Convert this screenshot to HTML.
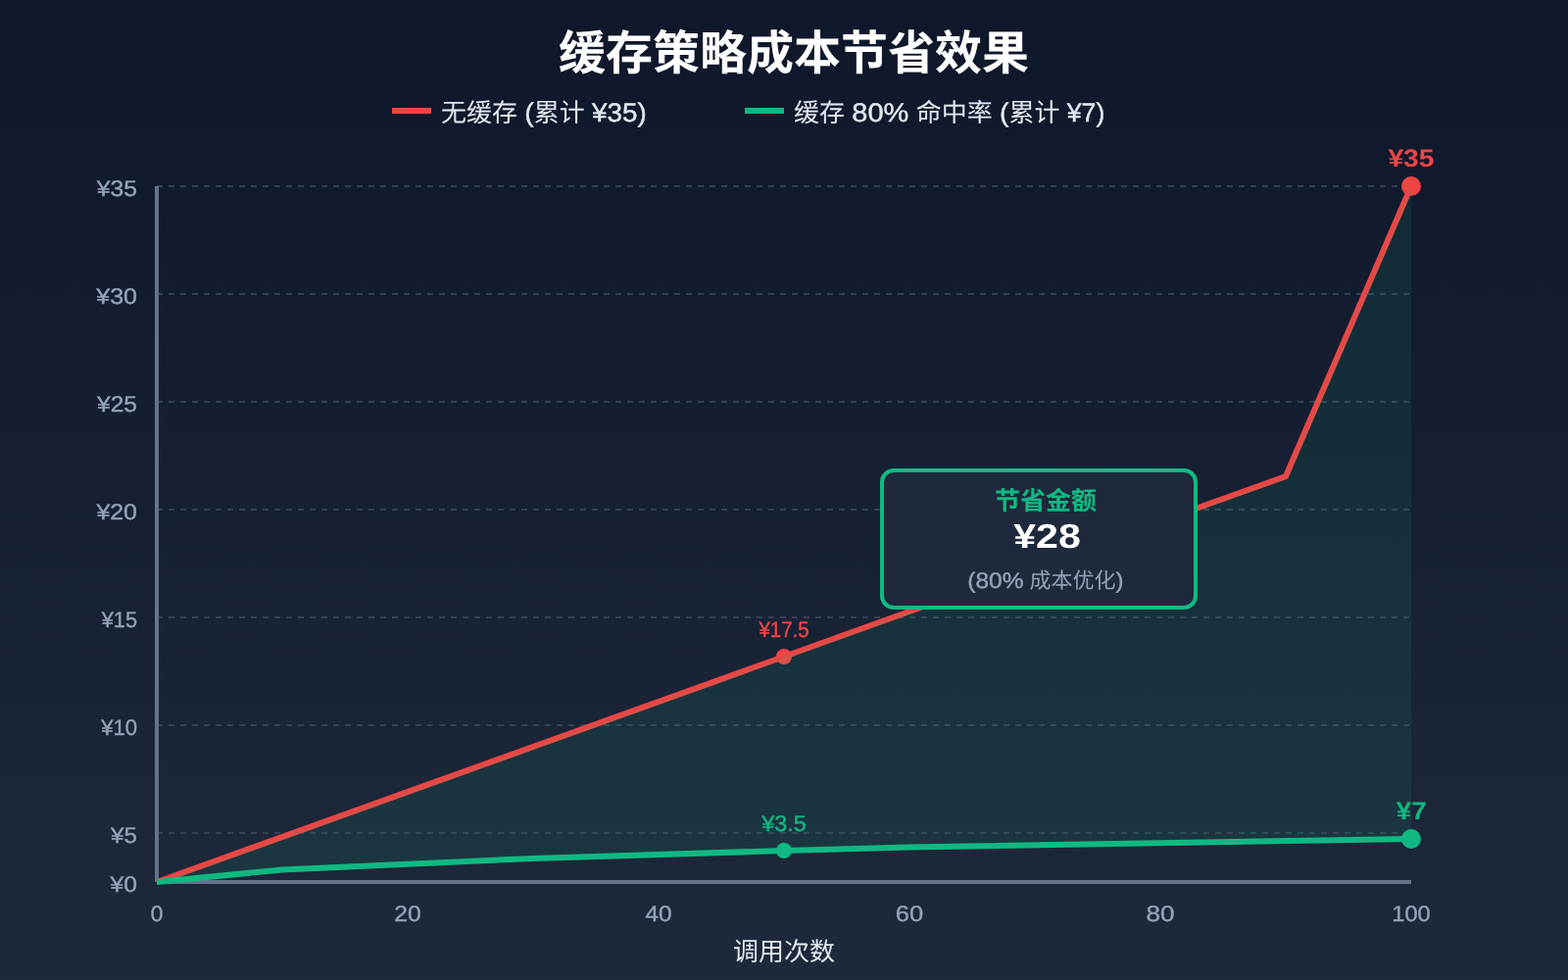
<!DOCTYPE html>
<html lang="zh-CN">
<head>
<meta charset="utf-8">
<title>缓存策略成本节省效果</title>
<style>
html,body{margin:0;padding:0;width:1600px;height:1000px;overflow:hidden;background:#0f172a}
body{font-family:"Liberation Sans","Noto Sans CJK SC",sans-serif}
svg{display:block;font-family:"Liberation Sans","Noto Sans CJK SC",sans-serif}
text{text-rendering:geometricPrecision}
</style>
</head>
<body>
<svg width="1600" height="1000" viewBox="0 0 1600 1000">
<defs>
<linearGradient id="bg" x1="0" y1="0" x2="0" y2="1"><stop offset="0" stop-color="#0f172a"/><stop offset="1" stop-color="#1e293b"/></linearGradient>
<mask id="full" maskUnits="userSpaceOnUse" x="0" y="0" width="1600" height="1000"><rect width="1600" height="1000" fill="#fff"/></mask>
</defs>
<rect width="1600" height="1000" fill="url(#bg)"/>
<!-- identity mask: forces an offscreen layer so text gets greyscale (non-LCD) antialiasing -->
<g mask="url(#full)">
<!-- title -->
<g>
<text x="570.0" y="70.7" font-size="48" font-weight="700" fill="#ffffff" textLength="480.0" lengthAdjust="spacingAndGlyphs">缓存策略成本节省效果</text>
</g>
<!-- legend -->
<line x1="400" y1="113" x2="440" y2="113" stroke="#ef4444" stroke-width="6"/>
<g>
<text x="450.0" y="124" font-size="26" fill="#e2e8f0" textLength="78.0" lengthAdjust="spacingAndGlyphs">无缓存</text>
<text x="535.31" y="124" font-size="26.87" fill="#e2e8f0" stroke="#e2e8f0" stroke-width="0.4" textLength="9.48" lengthAdjust="spacingAndGlyphs">(</text>
<text x="544.8" y="124" font-size="26" fill="#e2e8f0" textLength="52.0" lengthAdjust="spacingAndGlyphs">累计</text>
<text x="604.11" y="124" font-size="26.87" fill="#e2e8f0" stroke="#e2e8f0" stroke-width="0.4" textLength="55.66" lengthAdjust="spacingAndGlyphs">¥35)</text>
</g>
<line x1="760" y1="113" x2="800" y2="113" stroke="#10b981" stroke-width="6"/>
<g>
<text x="810.0" y="124" font-size="26" fill="#e2e8f0" textLength="52.0" lengthAdjust="spacingAndGlyphs">缓存</text>
<text x="869.31" y="124" font-size="26.87" fill="#e2e8f0" stroke="#e2e8f0" stroke-width="0.4" textLength="58.03" lengthAdjust="spacingAndGlyphs">80%</text>
<text x="934.7" y="124" font-size="26" fill="#e2e8f0" textLength="78.0" lengthAdjust="spacingAndGlyphs">命中率</text>
<text x="1019.97" y="124" font-size="26.87" fill="#e2e8f0" stroke="#e2e8f0" stroke-width="0.4" textLength="9.48" lengthAdjust="spacingAndGlyphs">(</text>
<text x="1029.5" y="124" font-size="26" fill="#e2e8f0" textLength="52.0" lengthAdjust="spacingAndGlyphs">累计</text>
<text x="1088.77" y="124" font-size="26.87" fill="#e2e8f0" stroke="#e2e8f0" stroke-width="0.4" textLength="38.50" lengthAdjust="spacingAndGlyphs">¥7)</text>
</g>
<!-- grid -->
<g stroke="#334155" stroke-width="2" stroke-dasharray="6 6">
<line x1="160" y1="190" x2="1440" y2="190"/>
<line x1="160" y1="300" x2="1440" y2="300"/>
<line x1="160" y1="410" x2="1440" y2="410"/>
<line x1="160" y1="520" x2="1440" y2="520"/>
<line x1="160" y1="630" x2="1440" y2="630"/>
<line x1="160" y1="740" x2="1440" y2="740"/>
<line x1="160" y1="850" x2="1440" y2="850"/>
</g>
<!-- y axis labels -->
<g>
<text x="140.00" y="200" font-size="22.65" fill="#94a3b8" stroke="#94a3b8" stroke-width="0.4" text-anchor="end" textLength="41.21" lengthAdjust="spacingAndGlyphs">¥35</text>
<text x="140.00" y="310" font-size="22.65" fill="#94a3b8" stroke="#94a3b8" stroke-width="0.4" text-anchor="end" textLength="41.76" lengthAdjust="spacingAndGlyphs">¥30</text>
<text x="140.00" y="420" font-size="22.65" fill="#94a3b8" stroke="#94a3b8" stroke-width="0.4" text-anchor="end" textLength="41.03" lengthAdjust="spacingAndGlyphs">¥25</text>
<text x="140.00" y="530" font-size="22.65" fill="#94a3b8" stroke="#94a3b8" stroke-width="0.4" text-anchor="end" textLength="41.58" lengthAdjust="spacingAndGlyphs">¥20</text>
<text x="140.00" y="640" font-size="22.65" fill="#94a3b8" stroke="#94a3b8" stroke-width="0.4" text-anchor="end" textLength="36.31" lengthAdjust="spacingAndGlyphs">¥15</text>
<text x="140.00" y="750" font-size="22.65" fill="#94a3b8" stroke="#94a3b8" stroke-width="0.4" text-anchor="end" textLength="36.86" lengthAdjust="spacingAndGlyphs">¥10</text>
<text x="140.00" y="860" font-size="22.65" fill="#94a3b8" stroke="#94a3b8" stroke-width="0.4" text-anchor="end" textLength="26.88" lengthAdjust="spacingAndGlyphs">¥5</text>
<text x="140.00" y="910" font-size="22.65" fill="#94a3b8" stroke="#94a3b8" stroke-width="0.4" text-anchor="end" textLength="27.41" lengthAdjust="spacingAndGlyphs">¥0</text>
</g>
<!-- axes -->
<line x1="160" y1="190" x2="160" y2="900" stroke="#64748b" stroke-width="4"/>
<line x1="160" y1="900" x2="1440" y2="900" stroke="#64748b" stroke-width="4"/>
<!-- x axis labels -->
<g>
<text x="160.00" y="940.3" font-size="22.65" fill="#94a3b8" stroke="#94a3b8" stroke-width="0.4" text-anchor="middle" textLength="12.60" lengthAdjust="spacingAndGlyphs">0</text>
<text x="416.00" y="940.3" font-size="22.65" fill="#94a3b8" stroke="#94a3b8" stroke-width="0.4" text-anchor="middle" textLength="27.40" lengthAdjust="spacingAndGlyphs">20</text>
<text x="672.00" y="940.3" font-size="22.65" fill="#94a3b8" stroke="#94a3b8" stroke-width="0.4" text-anchor="middle" textLength="27.05" lengthAdjust="spacingAndGlyphs">40</text>
<text x="928.00" y="940.3" font-size="22.65" fill="#94a3b8" stroke="#94a3b8" stroke-width="0.4" text-anchor="middle" textLength="28.30" lengthAdjust="spacingAndGlyphs">60</text>
<text x="1184.00" y="940.3" font-size="22.65" fill="#94a3b8" stroke="#94a3b8" stroke-width="0.4" text-anchor="middle" textLength="29.00" lengthAdjust="spacingAndGlyphs">80</text>
<text x="1440.00" y="940.3" font-size="22.65" fill="#94a3b8" stroke="#94a3b8" stroke-width="0.4" text-anchor="middle" textLength="39.30" lengthAdjust="spacingAndGlyphs">100</text>
<text x="748.0" y="980" font-size="26" fill="#e2e8f0" textLength="104.0" lengthAdjust="spacingAndGlyphs">调用次数</text>
</g>
<!-- series -->
<polyline points="160,900 800,670 1312,486 1440,190" fill="none" stroke="#ef4444" stroke-width="6"/>
<polyline points="160,900 288,887.5 544,876 800,868 928,864.4 1440,856" fill="none" stroke="#10b981" stroke-width="6"/>
<circle cx="800" cy="670" r="8" fill="#ef4444"/>
<circle cx="800" cy="868" r="8" fill="#10b981"/>
<circle cx="1440" cy="190" r="10" fill="#ef4444"/>
<circle cx="1440" cy="856" r="10" fill="#10b981"/>
<polygon points="160,900 800,670 1312,486 1440,190 1440,856 928,864.4 800,868 544,876 288,887.5 160,900" fill="#10b981" fill-opacity="0.1"/>
<!-- point labels -->
<g>
<text x="800.00" y="650" font-size="22.65" fill="#ef4444" stroke="#ef4444" stroke-width="0.4" text-anchor="middle" textLength="51.16" lengthAdjust="spacingAndGlyphs">¥17.5</text>
<text x="800.00" y="848" font-size="22.65" fill="#10b981" stroke="#10b981" stroke-width="0.4" text-anchor="middle" textLength="45.48" lengthAdjust="spacingAndGlyphs">¥3.5</text>
<text x="1440.00" y="170.2" font-size="25.32" fill="#ef4444" font-weight="700" text-anchor="middle" textLength="47.20" lengthAdjust="spacingAndGlyphs">¥35</text>
<text x="1440.20" y="836.4" font-size="25.32" fill="#10b981" font-weight="700" text-anchor="middle" textLength="31.00" lengthAdjust="spacingAndGlyphs">¥7</text>
</g>
<!-- callout -->
<rect x="900" y="480" width="320" height="140" rx="12" fill="#1e293b" stroke="#10b981" stroke-width="4"/>
<g>
<text x="1015.0" y="520" font-size="26" font-weight="700" fill="#10b981" textLength="104.0" lengthAdjust="spacingAndGlyphs">节省金额</text>
<text x="1068.50" y="558.8" font-size="34.82" fill="#ffffff" font-weight="700" text-anchor="middle" textLength="68.60" lengthAdjust="spacingAndGlyphs">¥28</text>
<text x="987.33" y="600" font-size="22.65" fill="#94a3b8" stroke="#94a3b8" stroke-width="0.4" textLength="57.12" lengthAdjust="spacingAndGlyphs">(80%</text>
<text x="1050.6" y="600" font-size="22" fill="#94a3b8" textLength="88.0" lengthAdjust="spacingAndGlyphs">成本优化</text>
<text x="1138.64" y="600" font-size="22.65" fill="#94a3b8" stroke="#94a3b8" stroke-width="0.4" textLength="8.03" lengthAdjust="spacingAndGlyphs">)</text>
</g>
</g>
</svg>
</body>
</html>
